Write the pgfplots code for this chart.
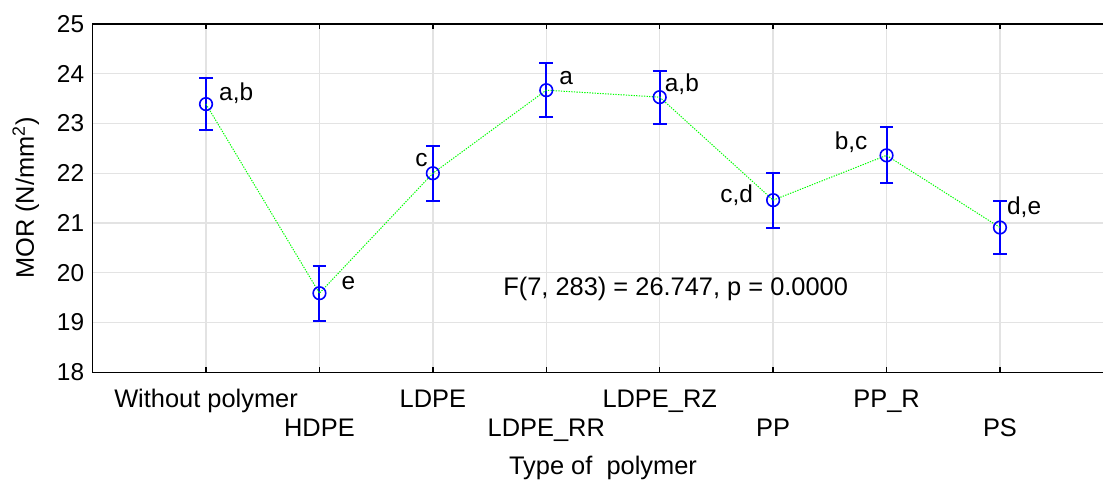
\documentclass[border=0pt]{standalone}
\usepackage{pgfplots}
\usepackage{pgfplotstable}
\pgfplotsset{compat=1.18}
\usepackage{fontspec}
\setmainfont{Liberation Sans}
\definecolor{gridgray}{HTML}{E3E3E3}
\definecolor{dotgreen}{HTML}{00FF00}
\definecolor{pblue}{HTML}{0000FF}
\pgfplotstableread{
x y e
0 23.39 0.53
1 19.59 0.55
2 22.00 0.55
3 23.67 0.54
4 23.53 0.53
5 21.46 0.55
6 22.36 0.56
7 20.91 0.54
}\mordata
\begin{document}
\begin{tikzpicture}
\path[use as bounding box] (-92.6bp,-108.7bp) rectangle (1010.4bp,372.3bp);
\begin{axis}[
  scale only axis,
  width=1020.9bp, height=348.3bp,
  xmin=-1, xmax=8, ymin=18, ymax=25,
  ytick={18,19,...,25},
  xtick={0,2,4,6},
  xticklabels={Without polymer, LDPE, LDPE\_RZ, PP\_R},
  extra x ticks={1,3,5,7},
  extra x tick labels={HDPE, LDPE\_RR, PP, PS},
  extra x tick style={grid=major, xticklabel style={yshift=-29bp}},
  grid=major,
  grid style={gridgray, line width=1.3bp},
  axis line style={black, line width=1.3bp},
  major tick length=5bp,
  ytick style={draw=none},
  xtick style={black, line width=1.3bp},
  /pgf/number format/assume math mode=true,
  yticklabel style={font=\fontsize{24.5}{29}\selectfont, xshift=-5bp},
  xticklabel style={font=\fontsize{25.5}{30}\selectfont, anchor=base, yshift=-34.7bp},
  xlabel={Type of~ polymer},
  ylabel={MOR (N/mm\textsuperscript{2})},
  xlabel style={font=\fontsize{25.5}{30}\selectfont, at={(axis description cs:0.5,0)}, anchor=base, yshift=-101.7bp},
  ylabel style={font=\fontsize{25.5}{30}\selectfont, at={(axis description cs:-0.049,0.5)}, anchor=south},
]
\addplot[only marks, pblue, mark=o, mark size=6.3bp, mark options={line width=1.6bp, pblue},
  error bars/.cd, y dir=both, y explicit,
  error bar style={line width=2bp, pblue},
  error mark options={rotate=90, mark size=6.8bp, line width=2bp, pblue}]
  table[x=x, y=y, y error=e]{\mordata};
\addplot[dotgreen, line width=1bp, dash pattern=on 1.3bp off 1.3bp, no marks] table[x=x, y=y]{\mordata};
\tikzset{lbl/.style={inner sep=0pt, font=\fontsize{24.5}{29}\selectfont}}
\node[lbl, anchor=base west, xshift=13bp, yshift=4bp] at (axis cs:0,23.39) {a,b};
\node[lbl, anchor=base west, xshift=22bp, yshift=4bp] at (axis cs:1,19.59) {e};
\node[lbl, anchor=base east, xshift=-5bp, yshift=7bp] at (axis cs:2,22.00) {c};
\node[lbl, anchor=base west, xshift=13bp, yshift=6bp] at (axis cs:3,23.67) {a};
\node[lbl, anchor=base west, xshift=5bp, yshift=6bp] at (axis cs:4,23.53) {a,b};
\node[lbl, anchor=base east, xshift=-20bp, yshift=-2bp] at (axis cs:5,21.46) {c,d};
\node[lbl, anchor=base east, xshift=-19bp, yshift=6bp] at (axis cs:6,22.36) {b,c};
\node[lbl, anchor=base west, xshift=7bp, yshift=12.7bp] at (axis cs:7,20.91) {d,e};
\node[lbl, anchor=base west, font=\fontsize{25.5}{30}\selectfont] at (axis cs:2.62,19.553) {F(7, 283) = 26.747, p = 0.0000};
\end{axis}
\end{tikzpicture}
\end{document}
